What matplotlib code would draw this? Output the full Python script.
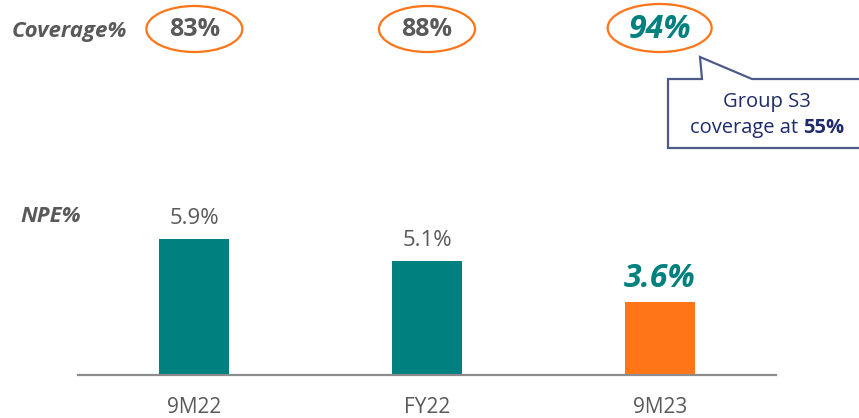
import matplotlib
matplotlib.use("Agg")
import matplotlib.pyplot as plt
from matplotlib.patches import Ellipse, Polygon
from matplotlib.transforms import blended_transform_factory

# ---- data ----
categories = ["9M22", "FY22", "9M23"]
npe_values = [5.9, 5.1, 3.6]
npe_labels = ["5.9%", "5.1%", "3.6%"]
coverage_labels = ["83%", "88%", "94%"]
callout_lines = ["Group S3", "coverage at ", "55%"]

TEAL = "#00807F"
ORANGE = "#FF7518"
GRAY = "#595959"
NAVY = "#1F2A6B"
EDGE = "#4E5A8A"

plt.rcParams["font.family"] = ["Open Sans", "DejaVu Sans"]

W, H = 859, 418
fig = plt.figure(figsize=(W / 100, H / 100), dpi=100)

def fx(px):
    return px / W

def fy(py):
    return 1 - py / H

ymin, ymax = 0.955, 7.0
base_px = 375
scale = 27.5  # px per unit
ax_h = scale * (ymax - ymin)
ax = fig.add_axes([fx(78), fy(base_px), fx(776) - fx(78), ax_h / H])
x = list(range(len(categories)))
colors = [TEAL, TEAL, ORANGE]
ax.bar(x, npe_values, width=0.30, color=colors, zorder=2)
ax.set_xlim(-0.5, 2.5)
ax.set_ylim(ymin, ymax)
for s in ["top", "left", "right"]:
    ax.spines[s].set_visible(False)
ax.spines["bottom"].set_color("#8C8C8C")
ax.spines["bottom"].set_linewidth(1.6)
ax.spines["bottom"].set_zorder(3)
ax.set_yticks([])
ax.set_xticks(x)
ax.set_xticklabels(categories, fontsize=15, color=GRAY)
ax.tick_params(axis="x", length=0, pad=16)
ax.patch.set_alpha(0)

for i, (v, lab) in enumerate(zip(npe_values, npe_labels)):
    if i == 2:
        ax.annotate(lab, (i, v), xytext=(0, 11), textcoords="offset points",
                    ha="center", va="baseline", fontsize=23, fontweight="bold",
                    fontstyle="italic", color=TEAL)
    else:
        ax.annotate(lab, (i, v), xytext=(0, 11), textcoords="offset points",
                    ha="center", va="baseline", fontsize=16, color=GRAY)

# row labels
fig.text(fx(12), fy(32), "Coverage%", fontsize=16, fontweight="bold",
         fontstyle="italic", color=GRAY, ha="left", va="center")
fig.text(fx(20), fy(217), "NPE%", fontsize=16, fontweight="bold",
         fontstyle="italic", color=GRAY, ha="left", va="center")

# coverage ellipses
tr = blended_transform_factory(ax.transData, fig.transFigure)
for i, lab in enumerate(coverage_labels):
    if i == 2:
        w_px, h_px, cy = 104, 48, 28
        ax.text(i, fy(cy + 1), lab, transform=tr, ha="center", va="center",
                fontsize=23, fontweight="bold", fontstyle="italic", color=TEAL,
                clip_on=False)
    else:
        w_px, h_px, cy = 96, 46, 29
        ax.text(i, fy(cy + 1), lab, transform=tr, ha="center", va="center",
                fontsize=18, fontweight="bold", color=GRAY, clip_on=False)
    e = Ellipse((i, fy(cy)), width=w_px / 232.7, height=h_px / H,
                transform=tr, fill=False, edgecolor=ORANGE, linewidth=1.6,
                clip_on=False)
    ax.add_patch(e)

# callout
pts = [(668, 79), (702, 79), (700, 57), (752, 79), (870, 79), (870, 148),
       (668, 148)]
poly = Polygon([(fx(a), fy(b)) for a, b in pts], closed=True,
               transform=fig.transFigure, facecolor="white", edgecolor=EDGE,
               linewidth=1.6)
fig.patches.append(poly)
fig.text(fx(767), fy(102), callout_lines[0], fontsize=14.5, color=NAVY,
         ha="center", va="center")
t1 = fig.text(fx(767), fy(128), callout_lines[1], fontsize=14.5, color=NAVY,
              ha="right", va="center")
fig.canvas.draw()
r = fig.canvas.get_renderer()
w1 = t1.get_window_extent(r).width
t2 = fig.text(fx(767), fy(128), callout_lines[2], fontsize=14.5, color=NAVY,
              fontweight="bold", ha="left", va="center")
w2 = t2.get_window_extent(r).width
shift = (w1 - w2) / 2
t1.set_x(fx(767 + shift))
t2.set_x(fx(767 + shift))

fig.savefig("out.png", dpi=100)
